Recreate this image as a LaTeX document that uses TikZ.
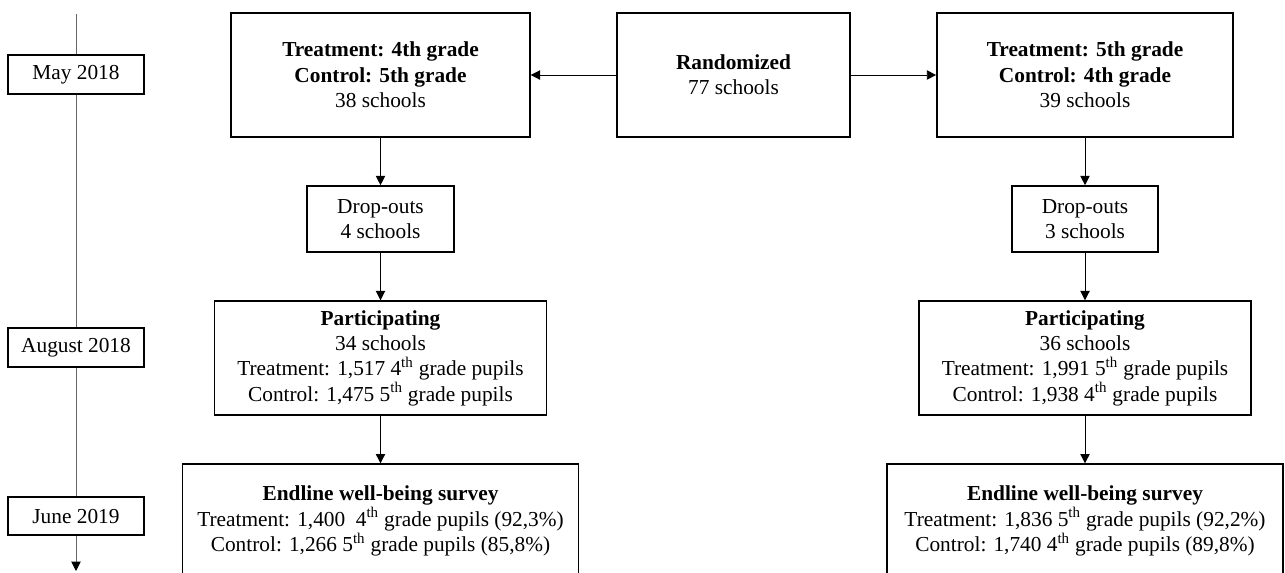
\documentclass[tikz,border=0pt]{standalone}
\usepackage{fontspec}
\setmainfont{Liberation Serif}
\usetikzlibrary{arrows.meta,positioning}

\begin{document}
\begin{tikzpicture}[x=0.75pt, y=-0.75pt,
  box/.style={draw, line width=1.3pt, align=center, inner sep=2pt, font=\fontsize{16}{19}\selectfont},
  datebox/.style={box, minimum width=102pt, minimum height=29pt},
  topbox/.style={box, minimum height=93pt},
  arr/.style={-{Triangle[length=7pt,width=7pt]}, line width=0.7pt},
  tline/.style={draw=black!60, line width=0.7pt},
  node distance=35.5pt
]
\useasboundingbox (0,0) rectangle (1285,572);
\clip (0,0) rectangle (1285,572);
% timeline
\node[datebox] (may) at (76,74.5) {May 2018};
\node[datebox] (aug) at (76,347.5) {August 2018};
\node[datebox] (june) at (76,516) {June 2019};
\coordinate (ttop) at (76,14);
\coordinate (tend) at (76,571);
\draw[tline] (ttop) -- (may.north);
\draw[tline] (may.south) -- (aug.north);
\draw[tline] (aug.south) -- (june.north);
\draw[tline, -{Triangle[length=7pt,width=7pt,color=black]}] (june.south) -- (tend);
% top row
\node[topbox, minimum width=224pt] (treatA) at (380.5,75) {\textbf{Treatment: 4th grade}\\\textbf{Control: 5th grade}\\38 schools};
\node[topbox, minimum width=175pt] (rand) at (733.5,75) {\textbf{Randomized}\\77 schools};
\node[topbox, minimum width=222pt] (treatB) at (1085,75) {\textbf{Treatment: 5th grade}\\\textbf{Control: 4th grade}\\39 schools};
% left branch
\node[box, minimum width=110pt, minimum height=49.5pt, below=of treatA] (dropA) {Drop-outs\\4 schools};
\node[box, minimum width=249pt, minimum height=85.5pt, below=of dropA] (partA) {\textbf{Participating}\\34 schools\\Treatment: 1,517 4\textsuperscript{th} grade pupils\\Control: 1,475 5\textsuperscript{th} grade pupils};
\node[box, minimum width=297pt, minimum height=85.5pt, below=of partA] (endA) {\textbf{Endline well-being survey}\\Treatment: 1,400\ \ 4\textsuperscript{th} grade pupils (92,3\%)\\Control: 1,266 5\textsuperscript{th} grade pupils (85,8\%)};
% right branch
\node[box, minimum width=110pt, minimum height=49.5pt, below=of treatB] (dropB) {Drop-outs\\3 schools};
\node[box, minimum width=249pt, minimum height=85.5pt, below=of dropB] (partB) {\textbf{Participating}\\36 schools\\Treatment: 1,991 5\textsuperscript{th} grade pupils\\Control: 1,938 4\textsuperscript{th} grade pupils};
\node[box, minimum width=297pt, minimum height=85.5pt, below=of partB] (endB) {\textbf{Endline well-being survey}\\Treatment: 1,836 5\textsuperscript{th} grade pupils (92,2\%)\\Control: 1,740 4\textsuperscript{th} grade pupils (89,8\%)};
% arrows
\draw[arr] (rand) -- (treatA);
\draw[arr] (rand) -- (treatB);
\draw[arr] (treatA) -- (dropA);
\draw[arr] (dropA) -- (partA);
\draw[arr] (partA) -- (endA);
\draw[arr] (treatB) -- (dropB);
\draw[arr] (dropB) -- (partB);
\draw[arr] (partB) -- (endB);
\end{tikzpicture}
\end{document}
